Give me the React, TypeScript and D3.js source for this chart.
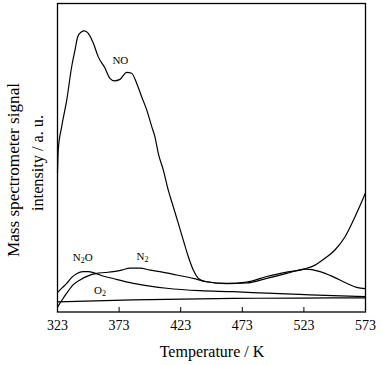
import React from "react";
import * as d3 from "d3";

const tickTemps = [323, 373, 423, 473, 523, 573];

const noT = [323, 323.6, 326.4, 330.5, 334.5, 337.2, 339.4, 342.1, 344.8, 348.0, 352.1, 356.1, 361.6, 365.6, 369.1, 373.7, 379.2, 383.2, 387.3, 391.3, 395.4, 399.5, 402.1, 404.8, 408.9, 412.9, 417.0, 421.0, 425.1, 429.2, 433.2, 437.3, 440.9, 444.1, 460.3, 476.6, 492.8, 509.0, 523.9, 532.0, 540.1, 548.2, 556.4, 564.5, 573];
const noV = [45.1, 52.5, 60.1, 68.7, 79.5, 84.9, 89.2, 90.7, 91.1, 90.3, 87.1, 82.7, 79.0, 75.7, 74.9, 75.4, 77.7, 77.4, 74.1, 69.8, 65.5, 60.1, 56.8, 51.4, 46.0, 39.5, 34.1, 28.8, 23.3, 17.9, 13.6, 10.9, 10.1, 9.8, 9.3, 9.7, 11.5, 12.9, 14.0, 15.2, 17.4, 20.1, 24.4, 30.9, 38.6];

const n2T = [323, 326.7, 330.5, 335.6, 341.3, 347.8, 354.8, 361.6, 368.3, 375.1, 381.8, 390.0, 398.1, 406.2, 419.8, 433.2, 444.1, 460.3, 476.6, 492.8, 509.0, 523.9, 536.1, 546.9, 557.7, 565.8, 573];
const n2V = [1.6, 3.9, 6.1, 8.8, 10.4, 11.7, 12.5, 12.8, 13.1, 13.6, 14.2, 14.2, 13.6, 13.1, 12.0, 10.9, 9.8, 9.2, 9.4, 10.9, 12.5, 13.9, 13.1, 11.4, 9.3, 8.0, 7.6];

const n2oT = [323, 326.7, 330.5, 334.8, 338.8, 343.7, 347.8, 353.4, 357.5, 369.7, 384.5, 398.1, 411.6, 438.7, 465.5, 492.8, 519.5, 546.6, 573];
const n2oV = [6.3, 7.8, 9.3, 11.3, 12.5, 13.1, 13.1, 12.6, 12.0, 10.7, 9.3, 8.4, 7.7, 6.9, 6.6, 6.1, 5.7, 5.3, 5.0];

const o2T = [323, 384.3, 465.4, 519.8, 573];
const o2V = [3.3, 3.9, 4.4, 4.5, 4.6];

const seriesLabels = [
  { text: "NO", sub: "", tail: "", t: 374, v: 80.5 },
  { text: "N", sub: "2", tail: "O", t: 343.5, v: 16.5 },
  { text: "N", sub: "2", tail: "", t: 392, v: 17 },
  { text: "O", sub: "2", tail: "", t: 357.5, v: 5.8 },
];

const L = 57.5, R = 365.5, T = 3.5, B = 312;

export default function App() {
  const x = d3.scaleLinear().domain([323, 573]).range([L, R]);
  const y = d3.scaleLinear().domain([0, 100]).range([B, B - 308.5]);
  const line = d3
    .line<[number, number]>()
    .x((d) => x(d[0]))
    .y((d) => y(d[1]))
    .curve(d3.curveMonotoneX);
  const mk = (ts: number[], vs: number[]) => ts.map((t, i) => [t, vs[i]] as [number, number]);
  const series = [mk(noT, noV), mk(n2T, n2V), mk(n2oT, n2oV), mk(o2T, o2V)];
  const font = "'Liberation Serif', 'Times New Roman', serif";

  return (
    <svg width={381} height={365} style={{ position: "absolute", left: 0, top: 0, background: "#fff" }} fontFamily={font}>
      <rect x={0} y={0} width={381} height={365} fill="#fff" />
      {series.map((s, i) => (
        <path key={i} d={line(s) || ""} fill="none" stroke="#000" strokeWidth={1.2} />
      ))}
      <rect x={L} y={T} width={R - L} height={B - T} fill="none" stroke="#000" strokeWidth={1.3} />
      {tickTemps.map((t) => (
        <g key={t}>
          <line x1={x(t)} x2={x(t)} y1={B} y2={B - 5} stroke="#000" strokeWidth={1} />
          <text x={x(t)} y={330} fontSize={14} textAnchor="middle" fill="#000">
            {t}
          </text>
        </g>
      ))}
      <text x={212} y={357} fontSize={16} textAnchor="middle" fill="#000">
        Temperature / K
      </text>
      <text
        transform="translate(19,170) rotate(-90)"
        fontSize={17}
        textAnchor="middle"
        fill="#000"
        textLength={174}
        lengthAdjust="spacingAndGlyphs"
      >
        Mass spectrometer signal
      </text>
      <text
        transform="translate(43,163) rotate(-90)"
        fontSize={16}
        textAnchor="middle"
        fill="#000"
        textLength={96}
        lengthAdjust="spacingAndGlyphs"
      >
        intensity / a. u.
      </text>
      {seriesLabels.map((l, i) => (
        <text key={i} x={x(l.t)} y={y(l.v)} fontSize={11} textAnchor="middle" fill="#000">
          {l.text}
          {l.sub ? (
            <tspan fontSize={8} dy={2}>
              {l.sub}
            </tspan>
          ) : null}
          {l.tail ? <tspan dy={-2}>{l.tail}</tspan> : null}
        </text>
      ))}
    </svg>
  );
}
